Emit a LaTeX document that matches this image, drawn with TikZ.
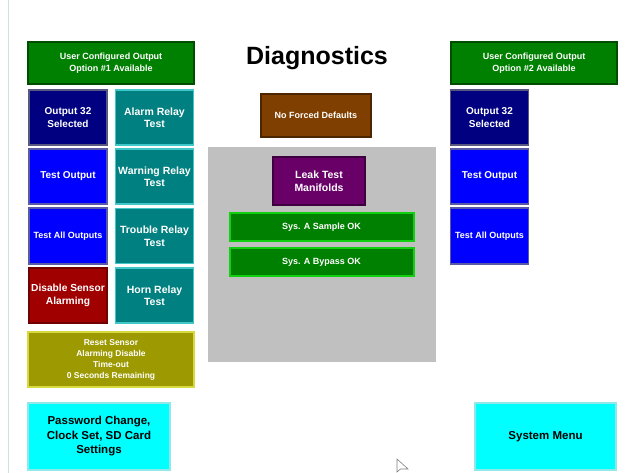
\documentclass[tikz,border=0pt]{standalone}
\usepackage{fontspec}
\setmainfont{Liberation Sans}
\usepackage{tikz}
\usetikzlibrary{positioning}
\definecolor{optgreen}{HTML}{008000}
\definecolor{navybtn}{HTML}{000080}
\definecolor{tealbtn}{HTML}{008080}
\definecolor{tealedge}{HTML}{40C8C8}
\definecolor{bluebtn}{HTML}{0000FF}
\definecolor{redbtn}{HTML}{A00000}
\definecolor{olivebtn}{HTML}{9C9A00}
\definecolor{oliveedge}{HTML}{D8D840}
\definecolor{brownbtn}{HTML}{7F3F00}
\definecolor{purplebtn}{HTML}{680068}
\definecolor{okedge}{HTML}{10D010}
\definecolor{cyanbtn}{HTML}{00FFFF}
\definecolor{cyanedge}{HTML}{90E8E8}
\definecolor{panelgray}{HTML}{C0C0C0}
\definecolor{edgeline}{HTML}{D4DCE4}
\newcommand{\btnfont}[2]{\fontsize{#1}{#2}\selectfont\bfseries}

\begin{document}
\begin{tikzpicture}[x=1pt,y=-1pt,
  btn/.style 2 args={fill=#1,draw=#2,line width=1.2pt,text=white,align=center,inner sep=0pt,
    minimum width=78,minimum height=55,font=\btnfont{10}{12.5}},
  wide/.style={minimum width=166,minimum height=42,font=\btnfont{9}{12.5}}]
\useasboundingbox[fill=white] (0,0) rectangle (627,473);
\draw[edgeline,line width=1pt] (8,0)--(8,473);
% option headers
\node[btn={optgreen}{optgreen!60!black},wide] (optA) at (111,63){User Configured Output\\Option \#1 Available};
\node[btn={optgreen}{optgreen!60!black},wide] (optB) at (534,63){User Configured Output\\Option \#2 Available};
% output columns
\foreach \x/\side in {68/L,489.5/R}{
\node[btn={navybtn}{gray!70!navybtn}] (sel\side) at (\x,117.5){Output 32\\Selected};
\node[btn={bluebtn}{gray!70!bluebtn}] (test\side) at (\x,176.5){Test Output};
\node[btn={bluebtn}{gray!70!bluebtn},minimum height=56,font=\btnfont{9}{11}] (all\side) at (\x,236){Test All Outputs};}
% relay tests
\foreach \y/\nm/\lab in {117.5/alarm/Alarm,176.5/warn/Warning,236/trouble/Trouble,295.5/horn/Horn}
\node[btn={tealbtn}{tealedge},font=\btnfont{10.5}{12.5}] (\nm) at (154.5,\y){\lab\ Relay\\Test};
\node[btn={redbtn}{redbtn!70!black},font=\btnfont{10.2}{12.5}] (disable) at (68,295.5){Disable Sensor\\Alarming};
\node[btn={olivebtn}{oliveedge},minimum width=166,font=\btnfont{8.5}{11}] (reset) at (111,359.5){Reset Sensor\\Alarming Disable\\Time-out\\0 Seconds Remaining};
% centre
\node[font=\fontsize{25}{30}\selectfont\bfseries] (title) at (317,58){Diagnostics};
\node[btn={brownbtn}{brownbtn!60!black},minimum width=110,minimum height=43,font=\btnfont{9}{11}] (nodef) at (316,115.5){No Forced Defaults};
\node[fill=panelgray,draw=gray!80,double=white,double distance=1pt,minimum width=229,minimum height=216,inner sep=0pt] (panel) at (322,254.5){};
\node[btn={purplebtn}{purplebtn!60!black},minimum width=92,minimum height=48,font=\btnfont{10.5}{12.5}] (leak) at (319,181){Leak Test\\Manifolds};
\foreach \y/\nm/\lab in {227.5/sample/Sample,262.5/bypass/Bypass}
\node[btn={optgreen}{okedge},line width=2pt,minimum width=184,minimum height=28,font=\btnfont{9}{11}] (\nm) at (321.5,\y){Sys. A \lab\ OK};
% bottom menus
\node[btn={cyanbtn}{cyanedge},text=black,minimum width=142,minimum height=67,font=\btnfont{11.5}{14.5}] (pw) at (99,436.5){Password Change,\\Clock Set, SD Card\\Settings};
\node[btn={cyanbtn}{cyanedge},text=black,minimum width=141,minimum height=67,font=\btnfont{11.5}{14.5}] (sysmenu) at (545.5,436.5){System Menu};
% pointer
\draw[gray,fill=white,line width=.6pt] (397,459)--(397,472)--(400.5,469)--(408,469)--cycle;
\end{tikzpicture}
\end{document}
